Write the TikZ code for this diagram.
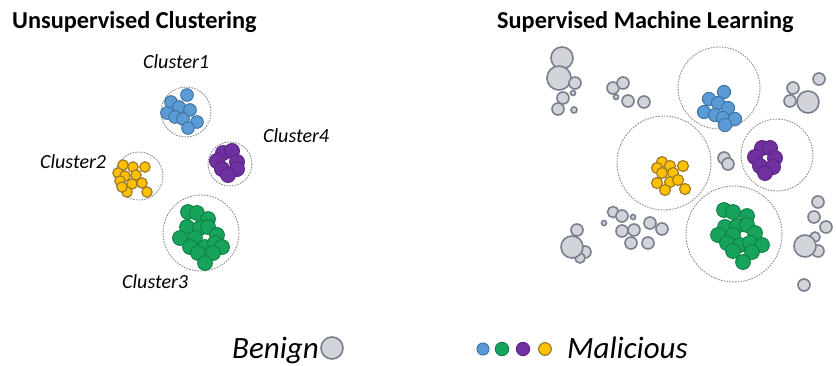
\documentclass[tikz,border=0pt]{standalone}
\usepackage{fontspec}
\setmainfont{Carlito}
\definecolor{bluef}{HTML}{5B9BD5}
\definecolor{bluee}{HTML}{3F74A6}
\definecolor{greenf}{HTML}{17A35B}
\definecolor{greene}{HTML}{0E8046}
\definecolor{purplef}{HTML}{7030A0}
\definecolor{purplee}{HTML}{5A2686}
\definecolor{yellowf}{HTML}{FFC000}
\definecolor{yellowe}{HTML}{9E7B2B}
\definecolor{greyf}{HTML}{D2D4DA}
\definecolor{greye}{HTML}{788090}
\definecolor{dashc}{HTML}{8C8C8C}
\tikzset{
  bdot/.style={fill=bluef,draw=bluee,line width=1pt},
  gdot/.style={fill=greenf,draw=greene,line width=0.9pt},
  pdot/.style={fill=purplef,draw=purplee,line width=0.9pt},
  ydot/.style={fill=yellowf,draw=yellowe,line width=1.2pt},
  benign/.style={fill=greyf,draw=greye,line width=1.6pt},
  ring/.style={draw=dashc,line width=0.9pt,dash pattern=on 1.6pt off 1.2pt},
  title/.style={anchor=base west,inner sep=0pt,font=\fontsize{24.3}{28}\selectfont\bfseries},
  clabel/.style={anchor=base west,inner sep=0pt,font=\fontsize{20}{24}\selectfont\itshape},
  legtext/.style={anchor=base west,inner sep=0pt,font=\fontsize{31}{36}\selectfont\itshape}
}
\begin{document}
\begin{tikzpicture}[x=1pt,y=-1pt]
\useasboundingbox[fill=white] (0,0) rectangle (836,365);
% titles
\node[title] (t1) at (12,28) {Unsupervised Clustering};
\node[title] (t2) at (497,28) {Supervised Machine Learning};
% cluster labels
\node[clabel] (c1) at (143,68) {Cluster1};
\node[clabel] (c2) at (40,168) {Cluster2};
\node[clabel] (c3) at (122,288) {Cluster3};
\node[clabel] (c4) at (263,142) {Cluster4};
% ---------- left panel ----------
\draw[ring] (186,112) circle (25);
\draw[ring] (230,164) circle (22);
\draw[ring] (139,176) circle (24);
\draw[ring] (201,233) circle (38);
\foreach \x/\y in {171/102,187/95,179/107,167/113,190/110,175/117,183/119,197/122,188/128}
  \filldraw[bdot] (\x,\y) circle (6.3);
\foreach \x/\y in {223/153,232/151,217/161,237/162,222/169,237/169,228/175}
  \filldraw[pdot] (\x,\y) circle (7.5);
\foreach \x/\y in {123/165,133/167,145/167,118/173,125/176,136/175,120/181,132/184,142/183,127/192,147/192,122/187}
  \filldraw[ydot] (\x,\y) circle (5.2);
\foreach \x/\y in {188/212,197/213,208/219,187/227,200/228,208/227,180/238,195/238,217/235,190/247,205/247,215/243,222/247,198/253,213/253,205/263}
  \filldraw[gdot] (\x,\y) circle (7.4);
% ---------- right panel ----------
\draw[ring] (719,88) circle (41);
\draw[ring] (664,163) circle (47);
\draw[ring] (777,155) circle (36);
\draw[ring] (734,234) circle (48);
% benign
\foreach \x/\y/\r in {562/58/11,559/78/12,575/83/6,563/98/6,573/93/2.5,558/109/6,574/110/3,
  613/88/6,623/83/6,616/97/2.5,628/101/6,644/102/6,
  793/88/6,819/79/6,790/101/6,808/102/11,
  724/158/6,728/164/6,
  613/212/5.5,622/216/6,604/223/2.5,633/217/2.5,622/231/6,634/230/6,650/223/6,662/229/6,631/243/6,648/243/6,
  577/230/6,585/252/6,580/258/5,572/247/11,
  818/202/6,814/217/6,826/227/6,815/237/5,818/251/6,805/246/11,804/285/6}
  \filldraw[benign] (\x,\y) circle (\r);
\foreach \x/\y in {724/92,709/99,718/103,728/108,704/112,715/115,723/118,735/119,725/125}
  \filldraw[bdot] (\x,\y) circle (6.6);
\foreach \x/\y in {662/162,670/166,683/166,657/168,662/173,673/173,657/183,670/182,678/180,665/190,685/189}
  \filldraw[ydot] (\x,\y) circle (5.5);
\foreach \x/\y in {762/148,770/148,755/157,775/158,760/166,773/167,765/173}
  \filldraw[pdot] (\x,\y) circle (7.5);
\foreach \x/\y in {724/210,733/212,747/216,725/227,737/226,747/225,718/235,733/235,755/233,727/243,740/245,750/243,762/245,733/251,752/252,743/262}
  \filldraw[gdot] (\x,\y) circle (7.4);
% ---------- legend ----------
\node[legtext] (lb) at (232,358) {Benign};
\filldraw[benign] (332,348) circle (11);
\filldraw[bdot] (483,349) circle (6);
\filldraw[gdot] (502,349) circle (6.7);
\filldraw[pdot] (523,349) circle (6.7);
\filldraw[ydot] (545,349) circle (6.3);
\node[legtext] (lm) at (567,358) {Malicious};
\end{tikzpicture}
\end{document}
